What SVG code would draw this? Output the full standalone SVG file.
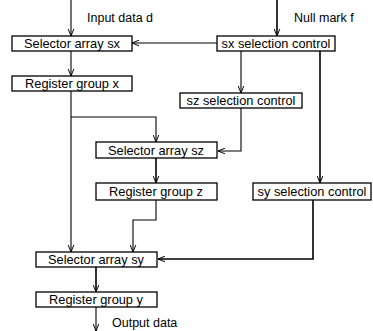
<svg xmlns="http://www.w3.org/2000/svg" width="373" height="331" viewBox="0 0 373 331">
<defs>
<style>
.box{fill:#fff;stroke:#000;stroke-width:1.3}
.t{font-family:"Liberation Sans",Arial,sans-serif;font-size:12.8px;fill:#000;text-anchor:middle}
.lbl{font-family:"Liberation Sans",Arial,sans-serif;font-size:12.5px;fill:#000}
.c{fill:none;stroke:#000;stroke-width:1.1;marker-end:url(#ah)}
.ck{fill:none;stroke:#000;stroke-width:1.6;marker-end:url(#ah)}
</style>
<marker id="ah" viewBox="0 0 10 10" refX="10" refY="5" markerWidth="7" markerHeight="7" markerUnits="userSpaceOnUse" orient="auto">
<polyline points="0,1 10,5 0,9" fill="none" stroke="#000" stroke-width="1.4"/>
</marker>
</defs>
<rect width="373" height="331" fill="#fff"/>
<g id="connectors">
<path class="c" d="M71,0 V36"/>
<path class="ck" d="M277,0 V36"/>
<path class="c" d="M217,43 H132"/>
<path class="c" d="M71,51 V76"/>
<path class="c" d="M241,51 V93"/>
<path class="ck" d="M320,51 V183"/>
<path class="c" d="M71,91 V252"/>
<path class="c" d="M71,117 H156 V142"/>
<path class="c" d="M241,108 V151 H218"/>
<path class="ck" d="M156,158 V183"/>
<path class="c" d="M156,200 V220 H133 V252"/>
<path class="ck" d="M313,200 V259 H158"/>
<path class="ck" d="M96,267 V292"/>
<path class="c" d="M96,307 V331"/>
</g>
<g id="input-label"><text class="lbl" x="87" y="22">Input data d</text></g>
<g id="null-label"><text class="lbl" x="294" y="22">Null mark f</text></g>
<g id="selector-sx"><rect class="box" x="12" y="36" width="120" height="15"/><text class="t" x="72" y="48">Selector array sx</text></g>
<g id="sx-control"><rect class="box" x="217" y="36" width="118" height="15"/><text class="t" x="276" y="48">sx selection control</text></g>
<g id="register-x"><rect class="box" x="12" y="76" width="120" height="15"/><text class="t" x="72" y="88">Register group x</text></g>
<g id="sz-control"><rect class="box" x="180" y="93" width="122" height="15"/><text class="t" x="241" y="105">sz selection control</text></g>
<g id="selector-sz"><rect class="box" x="96" y="142" width="121" height="16"/><text class="t" x="156" y="155">Selector array sz</text></g>
<g id="register-z"><rect class="box" x="96" y="183" width="121" height="17"/><text class="t" x="156" y="196">Register group z</text></g>
<g id="sy-control"><rect class="box" x="253" y="183" width="118" height="17"/><text class="t" x="312" y="196">sy selection control</text></g>
<g id="selector-sy"><rect class="box" x="36" y="252" width="121" height="15"/><text class="t" x="96" y="264">Selector array sy</text></g>
<g id="register-y"><rect class="box" x="36" y="292" width="121" height="15"/><text class="t" x="96" y="304">Register group y</text></g>
<g id="output-label"><text class="lbl" x="112" y="327">Output data</text></g>
</svg>
